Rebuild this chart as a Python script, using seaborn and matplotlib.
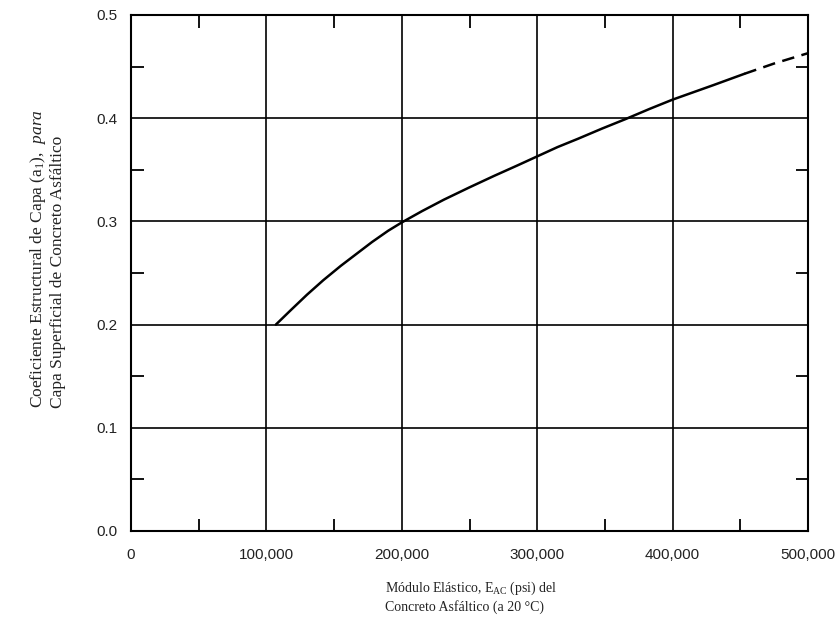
import pandas as pd
import seaborn as sns
import matplotlib.pyplot as plt
from matplotlib.ticker import MultipleLocator, FuncFormatter

# Curve values (a1 vs modulus)
modulo_solido = [107000, 118000, 130000, 142000, 155000, 167000, 178000, 190000,
                 200000, 215000, 231000, 250000, 268000, 285000, 300000, 315000,
                 330000, 348000, 365000, 383000, 400000, 415000, 430000, 453000]
coef_solido = [0.200, 0.214, 0.229, 0.243, 0.257, 0.269, 0.280, 0.291,
               0.299, 0.310, 0.321, 0.333, 0.344, 0.354, 0.363, 0.372,
               0.380, 0.390, 0.399, 0.409, 0.418, 0.425, 0.432, 0.443]
# Extrapolated (dashed) part
modulo_trazos = [453000, 475000, 500000]
coef_trazos = [0.443, 0.453, 0.463]

x_ticks = [0, 100000, 200000, 300000, 400000, 500000]
y_ticks = [0.0, 0.1, 0.2, 0.3, 0.4, 0.5]

df_sol = pd.DataFrame({'modulo': modulo_solido, 'a1': coef_solido})
df_tr = pd.DataFrame({'modulo': modulo_trazos, 'a1': coef_trazos})

sns.set_style("white")
plt.rcParams['font.family'] = ['Liberation Sans', 'DejaVu Sans']
plt.rcParams['mathtext.fontset'] = 'custom'
plt.rcParams['mathtext.rm'] = 'Liberation Serif'
plt.rcParams['mathtext.it'] = 'Liberation Serif:italic'

W, H = 838, 625
fig = plt.figure(figsize=(W / 100, H / 100), dpi=100)
ax = fig.add_axes([131 / W, 1 - 531 / H, 677 / W, 516 / H])

sns.lineplot(data=df_sol, x='modulo', y='a1', ax=ax, color='black', linewidth=1.8)
sns.lineplot(data=df_tr, x='modulo', y='a1', ax=ax, color='black', linewidth=1.8,
             linestyle=(0, (5, 3)))

ax.set_xlim(0, 500000)
ax.set_ylim(0, 0.5)
ax.set_xticks(x_ticks)
ax.set_yticks(y_ticks)
ax.xaxis.set_major_formatter(FuncFormatter(lambda v, p: f"{int(v):,}"))
ax.yaxis.set_major_formatter(FuncFormatter(lambda v, p: f"{v:.1f}"))
ax.xaxis.set_minor_locator(MultipleLocator(50000))
ax.yaxis.set_minor_locator(MultipleLocator(0.05))
ax.tick_params(which='major', length=0, labelsize=11, colors='#222222')
ax.tick_params(axis='x', which='major', pad=12)
ax.tick_params(axis='y', which='major', pad=10)
ax.tick_params(which='minor', direction='in', length=9, width=1.3,
               top=True, right=True, bottom=True, left=True, color='black')
ax.grid(True, which='major', color='black', linewidth=1.2)
for s in ax.spines.values():
    s.set_color('black')
    s.set_linewidth(1.5)

ax.set_xlabel('')
ax.set_ylabel('')

serif = ['Liberation Serif', 'DejaVu Serif']
fig.text(385 / W, 1 - 597 / H,
         'Módulo Elástico, E$_{\\mathrm{AC}}$ (psi) del\nConcreto Asfáltico (a 20 °C)',
         family=serif, fontsize=10, ha='left', va='center', linespacing=1.3,
         color='#222222')
fig.text(47 / W, 1 - 408 / H,
         'Coeficiente Estructural de Capa (a$_1$),  $\\mathit{para}$\n'
         'Capa Superficial de Concreto Asfáltico',
         family=serif, fontsize=12.5, rotation=90, ha='center', va='bottom',
         multialignment='left', linespacing=1.15, color='#222222')

fig.savefig('out.png', dpi=100)
